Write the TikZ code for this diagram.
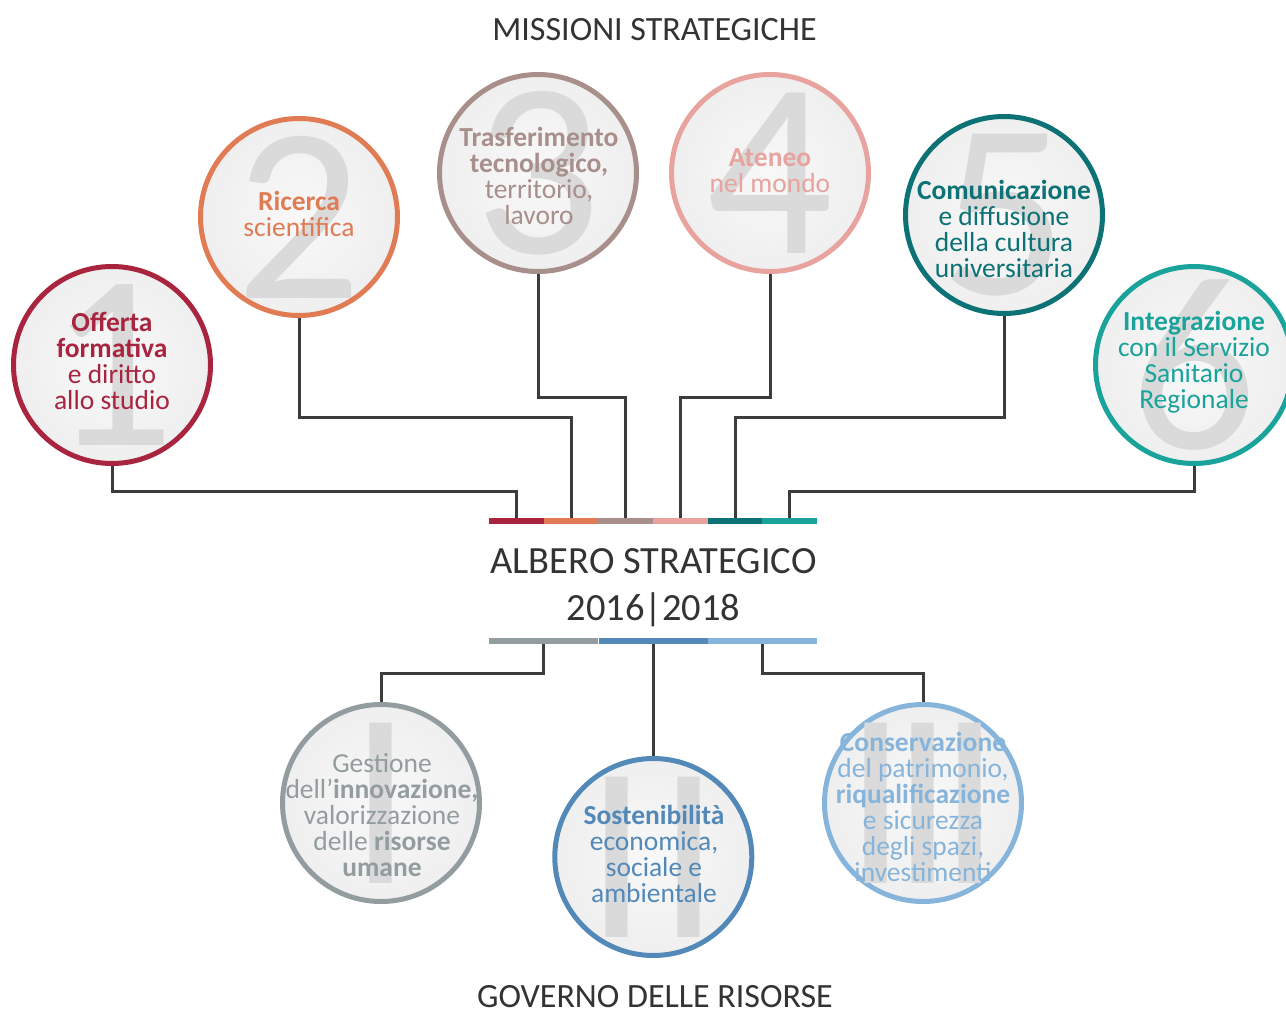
\documentclass[tikz,border=0pt]{standalone}
\usepackage{fontspec}
\setmainfont{Carlito}

\definecolor{mcrimson}{HTML}{A8243F}
\definecolor{morange}{HTML}{E07B54}
\definecolor{mtaupe}{HTML}{A88F8B}
\definecolor{mpink}{HTML}{E8A39E}
\definecolor{mdteal}{HTML}{0D7275}
\definecolor{mteal}{HTML}{1AA39B}
\definecolor{rgray}{HTML}{939C9F}
\definecolor{rblue}{HTML}{5289B9}
\definecolor{rlblue}{HTML}{86B4DA}
\definecolor{numgray}{HTML}{DADADA}
\definecolor{discin}{HTML}{F8F8F8}
\definecolor{discout}{HTML}{EFEFEF}
\definecolor{wiregray}{HTML}{3C3C3C}
\definecolor{titlegray}{HTML}{333333}

\tikzset{
  disc/.style={circle, draw=#1, line width=5pt, minimum size=197pt, inner sep=0pt,
    inner color=discin, outer color=discout},
  numeral/.style={font=\fontsize{250}{250}\selectfont, text=numgray, inner sep=0pt},
  blurb/.style={align=center, font=\fontsize{27.5}{26}\selectfont, inner sep=0pt, text=#1},
  segment/.style={fill=#1, minimum height=6pt, inner sep=0pt, outer sep=0pt},
  wire/.style={draw=wiregray, line width=3pt},
  heading/.style={font=\fontsize{34}{40}\selectfont, text=titlegray, anchor=base},
  bigheading/.style={heading, font=\fontsize{38.5}{40}\selectfont}
}

\begin{document}
\begin{tikzpicture}[x=1pt, y=-1pt]
    \useasboundingbox (0,0) rectangle (1286,1009);

    % titles
    \node[heading] (top) at (654.5,40) {MISSIONI STRATEGICHE};
    \node[bigheading] (tree) at (653.5,573) {ALBERO STRATEGICO};
    \node[bigheading] (years) at (653.5,620) {2016|2018};
    \node[heading] (bottom) at (655,1007) {GOVERNO DELLE RISORSE};

    % missions
    \node[disc=mcrimson] (m1) at (112,365) {};
    \node[disc=morange] (m2) at (299,217) {};
    \node[disc=mtaupe] (m3) at (538,173) {};
    \node[disc=mpink] (m4) at (770,173) {};
    \node[disc=mdteal] (m5) at (1004,215) {};
    \node[disc=mteal] (m6) at (1194,365) {};

    \node[numeral] (n1) at (m1) {1};
    \node[numeral] (n2) at (m2) {2};
    \node[numeral] (n3) at (m3) {3};
    \node[numeral] (n4) at (m4) {4};
    \node[numeral] (n5) at (m5) {5};
    \node[numeral] (n6) at (m6) {6};

    \node[blurb=mcrimson] (t1) at (112,361) {\textbf{Offerta}\\\textbf{formativa}\\e diritto\\allo studio};
    \node[blurb=morange] (t2) at (299,214) {\textbf{Ricerca}\\scientifica};
    \node[blurb=mtaupe] (t3) at (539,176) {\textbf{Trasferimento}\\\textbf{tecnologico,}\\territorio,\\lavoro};
    \node[blurb=mpink] (t4) at (770,171) {\textbf{Ateneo}\\nel mondo};
    \node[blurb=mdteal] (t5) at (1004,229) {\textbf{Comunicazione}\\e diffusione\\della cultura\\universitaria};
    \node[blurb=mteal] (t6) at (1194,362) {\textbf{Integrazione}\\con il Servizio\\Sanitario\\Regionale};

    % resources
    \node[disc=rgray] (r1) at (381,803) {};
    \node[disc=rblue] (r2) at (653.3,857) {};
    \node[disc=rlblue] (r3) at (923,803) {};

    \node[numeral] (q1) at (r1) {I};
    \node[numeral] (q2) at (r2) {I\hspace{9pt}I};
    \node[numeral] (q3) at (r3) {I\hspace{-16pt}I\hspace{-16pt}I};

    \node[blurb=rgray] (s1) at (382,815) {Gestione\\dell’\textbf{innovazione,}\\valorizzazione\\delle \textbf{risorse}\\\textbf{umane}};
    \node[blurb=rblue] (s2) at (654,854) {\textbf{Sostenibilità}\\economica,\\sociale e\\ambientale};
    \node[blurb=rlblue] (s3) at (923,807) {\textbf{Conservazione}\\del patrimonio,\\\textbf{riqualificazione}\\e sicurezza\\degli spazi,\\investimenti};

    % colour bars
    \node[segment=mcrimson, minimum width=54.67pt] (b1) at (516.3,521) {};
    \node[segment=morange, minimum width=54.67pt] (b2) at (571,521) {};
    \node[segment=mtaupe, minimum width=54.67pt] (b3) at (625.7,521) {};
    \node[segment=mpink, minimum width=54.67pt] (b4) at (680.3,521) {};
    \node[segment=mdteal, minimum width=54.67pt] (b5) at (735,521) {};
    \node[segment=mteal, minimum width=54.67pt] (b6) at (789.7,521) {};

    \node[segment=rgray, minimum width=109.33pt] (g1) at (543.7,641) {};
    \node[segment=rblue, minimum width=109.33pt] (g2) at (653.3,641) {};
    \node[segment=rlblue, minimum width=109.33pt] (g3) at (762.3,641) {};

    % connectors
    \draw[wire] (m1.south) -- ++(0,25) -| (b1.north);
    \draw[wire] (m2.south) -- ++(0,99) -| (b2.north);
    \draw[wire] (m3.south) -- ++(0,123) -| (b3.north);
    \draw[wire] (m4.south) -- ++(0,123) -| (b4.north);
    \draw[wire] (m5.south) -- ++(0,101) -| (b5.north);
    \draw[wire] (m6.south) -- ++(0,25) -| (b6.north);

    \draw[wire] (g1.south) -- ++(0,29) -| (r1.north);
    \draw[wire] (g2.south) -- (r2.north);
    \draw[wire] (g3.south) -- ++(0,29) -| (r3.north);
\end{tikzpicture}
\end{document}
